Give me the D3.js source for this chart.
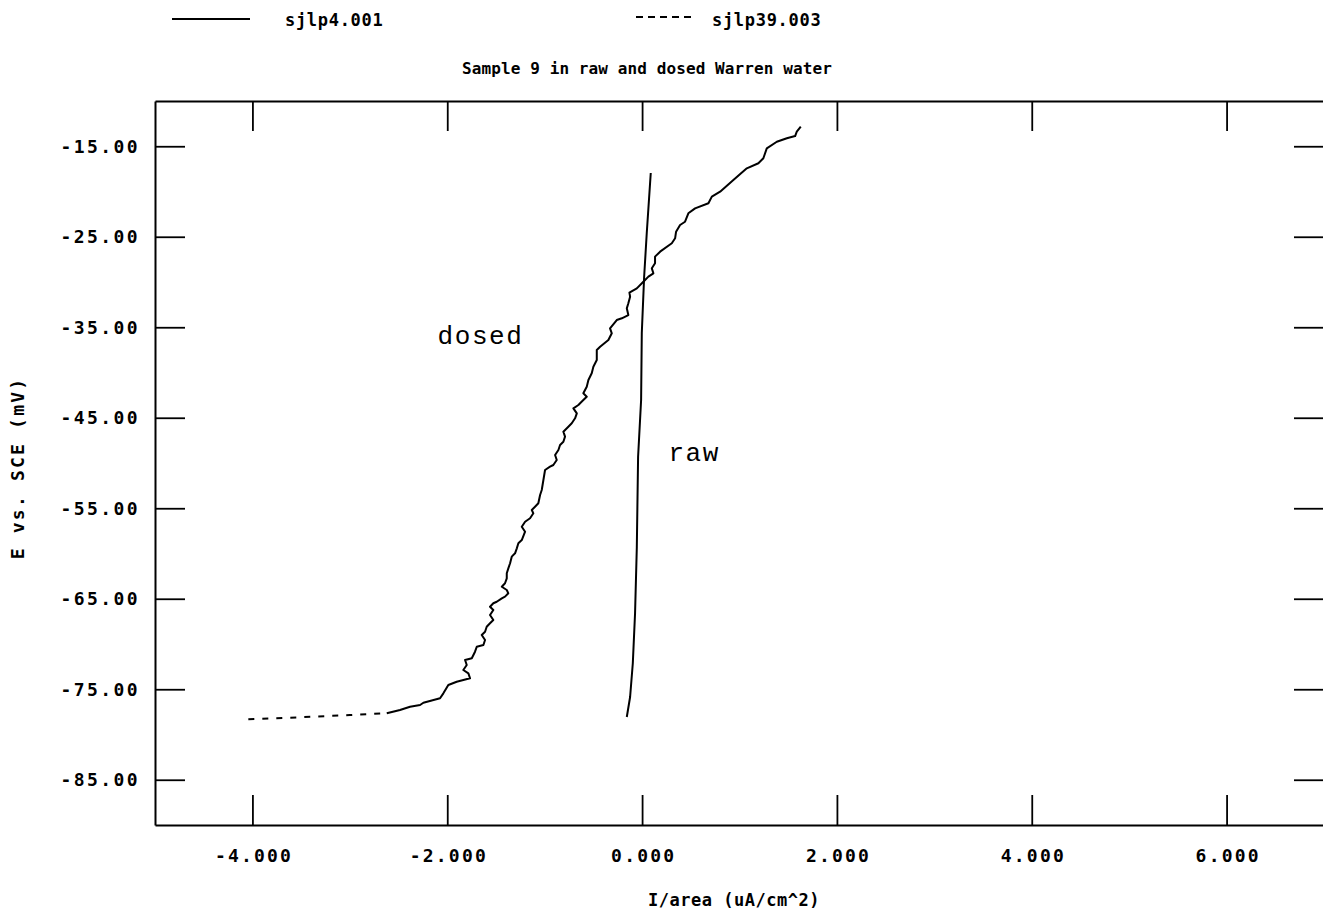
<!DOCTYPE html>
<html><head><meta charset="utf-8">
<script src="https://cdn.jsdelivr.net/npm/d3@7"></script>
<style>body{margin:0;background:#fff}svg{display:block}</style>
</head><body>
<svg id="c" width="1323" height="912"></svg>
<script>
// ---- data ----
const seriesNames = ["sjlp4.001", "sjlp39.003"];
const titleText = "Sample 9 in raw and dosed Warren water";
const xTitle = "I/area (uA/cm^2)";
const yTitle = "E vs. SCE (mV)";
const xTicks = [-4, -2, 0, 2, 4, 6];
const xTickLabels = ["-4.000", "-2.000", "0.000", "2.000", "4.000", "6.000"];
const yTicks = [-15, -25, -35, -45, -55, -65, -75, -85];
const yTickLabels = ["-15.00", "-25.00", "-35.00", "-45.00", "-55.00", "-65.00", "-75.00", "-85.00"];

// raw water (sjlp4.001)
const rawI = [-0.157, -0.123, -0.095, -0.072, -0.054, -0.041, -0.010, -0.003, 0.021, 0.048, 0.089];
const rawE = [-78.07, -75.86, -72.10, -66.57, -59.28, -49.34, -43.04, -35.64, -29.45, -24.59, -17.96];

// dosed water (sjlp39.003), sparse start of scan (drawn dashed)
const dosedTailI = [-4.042, -3.511, -2.998, -2.673, -2.621];
const dosedTailE = [-78.32, -78.10, -77.85, -77.66, -77.66];
// dosed water, dense part of scan
const dosedI = [-2.621, -2.485, -2.382, -2.279, -2.245, -2.074, -2.040, -1.989, -1.903, -1.766,
  -1.783, -1.835, -1.800, -1.817, -1.748, -1.715, -1.697, -1.629, -1.612, -1.646,
  -1.612, -1.595, -1.561, -1.527, -1.561, -1.527, -1.561, -1.527, -1.492, -1.440,
  -1.407, -1.373, -1.389, -1.440, -1.407, -1.389, -1.389, -1.373, -1.355, -1.338,
  -1.304, -1.286, -1.270, -1.235, -1.201, -1.235, -1.201, -1.150, -1.116, -1.132,
  -1.099, -1.065, -1.047, -1.030, -1.013, -0.996, -0.945, -0.911, -0.876, -0.893,
  -0.859, -0.842, -0.808, -0.791, -0.808, -0.757, -0.722, -0.688, -0.670, -0.705,
  -0.654, -0.603, -0.568, -0.603, -0.568, -0.551, -0.517, -0.500, -0.465, -0.465,
  -0.431, -0.346, -0.311, -0.329, -0.260, -0.208, -0.141, -0.157, -0.141, -0.123,
  -0.130, -0.054, 0.013, 0.065, 0.116, 0.100, 0.133, 0.133, 0.185, 0.305,
  0.339, 0.349, 0.390, 0.441, 0.475, 0.544, 0.681, 0.716, 0.801, 0.937,
  1.075, 1.194, 1.245, 1.280, 1.383, 1.486, 1.571, 1.588, 1.629];
const dosedE = [-77.66, -77.29, -76.93, -76.74, -76.49, -76.00, -75.45, -74.53, -74.17, -73.79,
  -73.24, -72.87, -72.32, -71.77, -71.58, -70.85, -70.30, -70.11, -69.56, -69.01,
  -68.64, -68.09, -67.71, -67.35, -66.80, -66.24, -65.88, -65.50, -65.33, -64.95,
  -64.77, -64.40, -64.03, -63.67, -63.29, -62.74, -62.19, -61.64, -61.08, -60.35,
  -59.98, -59.43, -58.87, -58.51, -57.59, -57.04, -56.49, -56.11, -55.56, -55.19,
  -54.83, -54.45, -53.54, -52.98, -51.88, -50.77, -50.41, -50.22, -49.67, -49.12,
  -48.56, -48.01, -47.65, -47.09, -46.54, -45.99, -45.61, -45.06, -44.51, -43.96,
  -43.59, -43.04, -42.67, -42.30, -41.57, -40.83, -40.09, -39.36, -38.62, -37.51,
  -37.15, -36.41, -35.67, -35.12, -34.20, -34.01, -33.65, -32.91, -32.35, -31.62,
  -31.18, -30.70, -29.97, -29.41, -29.04, -28.49, -27.93, -27.20, -26.65, -25.72,
  -25.17, -24.44, -23.70, -23.34, -22.41, -21.86, -21.30, -20.57, -20.02, -18.73,
  -17.44, -16.88, -16.33, -15.23, -14.50, -14.12, -13.87, -13.39, -12.84];

const annotations = [
  {text: "dosed", i: -2.10, e: -36.9},
  {text: "raw", i: 0.27, e: -49.8}
];

// ---- chart ----
const svg = d3.select("#c");
const x = d3.scaleLinear().domain([-5, 7]).range([155, 1324]);
const y = d3.scaleLinear().domain([-90, -10]).range([825, 101]);
const mono = "'DejaVu Sans Mono', monospace";

function styleAxis(g, fs, ls) {
  g.attr("font-family", mono).attr("font-size", fs).attr("font-weight", "bold");
  g.select(".domain").attr("stroke", "#000").attr("stroke-width", 2);
  g.selectAll(".tick line").attr("stroke", "#000").attr("stroke-width", 1.8);
  g.selectAll(".tick text").attr("fill", "#000").style("letter-spacing", ls + "px");
}

svg.append("g").attr("transform", "translate(0,825)")
  .call(d3.axisBottom(x).tickValues(xTicks).tickFormat((d, i) => xTickLabels[i])
    .tickSize(-30).tickSizeOuter(0).tickPadding(24))
  .call(g => styleAxis(g, 18, 2.2))
  .call(g => g.selectAll(".tick text").attr("dx", 1.1));

svg.append("g").attr("transform", "translate(0,101)")
  .call(d3.axisTop(x).tickValues(xTicks).tickFormat(() => "").tickSize(-30).tickSizeOuter(0))
  .call(g => styleAxis(g, 18, 0));

svg.append("g").attr("transform", "translate(155,0)")
  .call(d3.axisLeft(y).tickValues(yTicks).tickFormat((d, i) => yTickLabels[i])
    .tickSize(-30).tickSizeOuter(0).tickPadding(15))
  .call(g => styleAxis(g, 18, 2.4));

svg.append("g").attr("transform", "translate(1324,0)")
  .call(d3.axisRight(y).tickValues(yTicks).tickFormat(() => "").tickSize(-30).tickSizeOuter(0))
  .call(g => styleAxis(g, 18, 0));

const line = d3.line().x(d => x(d[0])).y(d => y(d[1]));
const rawPts = rawI.map((v, i) => [v, rawE[i]]);
const dosedPts = dosedI.map((v, i) => [v, dosedE[i]]);
const tailPts = dosedTailI.map((v, i) => [v, dosedTailE[i]]);

svg.append("path").datum(rawPts).attr("d", line)
  .attr("fill", "none").attr("stroke", "#000").attr("stroke-width", 2).attr("stroke-linejoin", "round");
svg.append("path").datum(dosedPts).attr("d", line)
  .attr("fill", "none").attr("stroke", "#000").attr("stroke-width", 2).attr("stroke-linejoin", "round");
svg.append("path").datum(tailPts).attr("d", line)
  .attr("fill", "none").attr("stroke", "#000").attr("stroke-width", 2).attr("stroke-dasharray", "6,8");

// annotations
svg.selectAll("text.ann").data(annotations).join("text").attr("class", "ann")
  .attr("x", d => x(d.i)).attr("y", d => y(d.e))
  .attr("font-family", "'Liberation Mono', 'Courier New', monospace")
  .attr("font-size", 26).style("letter-spacing", "1.6px")
  .text(d => d.text);

// title
svg.append("text").attr("x", 647).attr("y", 74).attr("text-anchor", "middle")
  .attr("font-family", mono).attr("font-size", 16).attr("font-weight", "bold")
  .style("letter-spacing", "0.1px")
  .text(titleText);

// legend
svg.append("line").attr("x1", 172).attr("x2", 250).attr("y1", 19).attr("y2", 19)
  .attr("stroke", "#000").attr("stroke-width", 2);
svg.append("text").attr("x", 285).attr("y", 26).attr("font-family", mono)
  .attr("font-size", 17).attr("font-weight", "bold").style("letter-spacing", "0.7px")
  .text(seriesNames[0]);
svg.append("line").attr("x1", 636).attr("x2", 691).attr("y1", 17).attr("y2", 17)
  .attr("stroke", "#000").attr("stroke-width", 2).attr("stroke-dasharray", "7,5");
svg.append("text").attr("x", 712).attr("y", 26).attr("font-family", mono)
  .attr("font-size", 17).attr("font-weight", "bold").style("letter-spacing", "0.7px")
  .text(seriesNames[1]);

// axis titles
svg.append("text").attr("x", 734).attr("y", 906).attr("text-anchor", "middle")
  .attr("font-family", mono).attr("font-size", 17).attr("font-weight", "bold")
  .style("letter-spacing", "0.5px")
  .text(xTitle);
svg.append("text").attr("transform", "translate(24,468) rotate(-90)").attr("text-anchor", "middle")
  .attr("font-family", mono).attr("font-size", 18).attr("font-weight", "bold")
  .style("letter-spacing", "2.2px")
  .text(yTitle);
</script>
</body></html>
